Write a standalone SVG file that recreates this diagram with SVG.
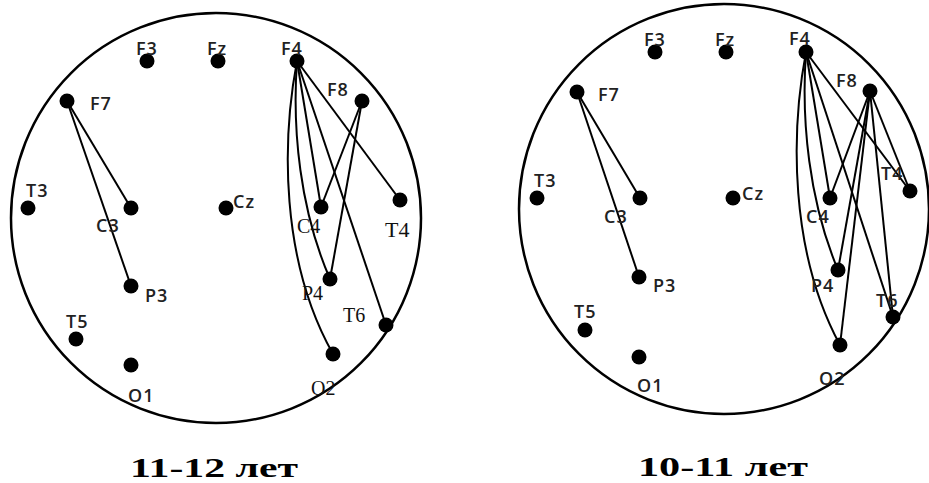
<svg xmlns="http://www.w3.org/2000/svg" width="929" height="483" viewBox="0 0 929 483">
<style>
.head{fill:none;stroke:#000;stroke-width:2.5}
.e{fill:none;stroke:#000;stroke-width:2}
.dot{fill:#000}
.s{font-family:"Open Sans","Liberation Sans",sans-serif;font-size:18px;font-weight:600;fill:#222;letter-spacing:1px}
.r{font-family:"Liberation Serif","Times New Roman",serif;font-size:20px;fill:#111}
.big{font-size:22px}
.title{font-family:"Liberation Serif","Times New Roman",serif;font-size:28px;font-weight:bold;fill:#000}
</style>
<rect width="929" height="483" fill="#fff"/>

<!-- LEFT DIAGRAM: 11-12 лет -->
<g id="left-head"><circle class="head" cx="216" cy="218" r="205"/></g>
<g id="left-connectors">
  <line class="e" x1="67" y1="101" x2="131" y2="208"/>
  <line class="e" x1="67" y1="101" x2="131" y2="286"/>
  <line class="e" x1="297" y1="61" x2="321" y2="207"/>
  <line class="e" x1="297" y1="61" x2="400" y2="200"/>
  <line class="e" x1="297" y1="61" x2="386" y2="325"/>
  <path class="e" d="M297,61 C292,130 300,210 330,279"/>
  <path class="e" d="M297,61 C282,140 280,260 333,354"/>
  <line class="e" x1="362" y1="101" x2="321" y2="207"/>
  <line class="e" x1="362" y1="101" x2="330" y2="279"/>
</g>
<g id="L-F3"><circle class="dot" cx="147" cy="61" r="7.5"/><text class="s" x="136" y="55">F3</text></g>
<g id="L-Fz"><circle class="dot" cx="218" cy="61" r="7.5"/><text class="s" x="207" y="55">Fz</text></g>
<g id="L-F4"><circle class="dot" cx="297" cy="61" r="7.5"/><text class="s" x="281" y="55">F4</text></g>
<g id="L-F8"><circle class="dot" cx="362" cy="101" r="7.5"/><text class="s" x="327" y="96">F8</text></g>
<g id="L-F7"><circle class="dot" cx="67" cy="101" r="7.5"/><text class="s" x="90" y="110">F7</text></g>
<g id="L-T3"><circle class="dot" cx="28" cy="208" r="7.5"/><text class="s" x="26" y="197">T3</text></g>
<g id="L-C3"><circle class="dot" cx="131" cy="208" r="7.5"/><text class="s" x="96" y="232">C3</text></g>
<g id="L-Cz"><circle class="dot" cx="226" cy="208" r="7.5"/><text class="s" x="233" y="208">Cz</text></g>
<g id="L-C4"><circle class="dot" cx="321" cy="207" r="7.5"/><text class="r" x="297" y="233">C4</text></g>
<g id="L-T4"><circle class="dot" cx="400" cy="200" r="7.5"/><text class="r big" x="385" y="237">T4</text></g>
<g id="L-P4"><circle class="dot" cx="330" cy="279" r="7.5"/><text class="r" x="302" y="300">P4</text></g>
<g id="L-T6"><circle class="dot" cx="386" cy="325" r="7.5"/><text class="r" x="343" y="322">T6</text></g>
<g id="L-O2"><circle class="dot" cx="333" cy="354" r="7.5"/><text class="r" x="311" y="395">O2</text></g>
<g id="L-P3"><circle class="dot" cx="131" cy="286" r="7.5"/><text class="s" x="145" y="302">P3</text></g>
<g id="L-T5"><circle class="dot" cx="76" cy="339" r="7.5"/><text class="s" x="66" y="328">T5</text></g>
<g id="L-O1"><circle class="dot" cx="131" cy="365" r="7.5"/><text class="s" x="128" y="402">O1</text></g>
<text id="left-title" class="title" x="130" y="477" textLength="168" lengthAdjust="spacingAndGlyphs">11-12 лет</text>

<!-- RIGHT DIAGRAM: 10-11 лет -->
<g id="right-head"><circle class="head" cx="724" cy="209" r="205"/></g>
<g id="right-connectors">
  <line class="e" x1="577" y1="92" x2="640" y2="198"/>
  <line class="e" x1="577" y1="92" x2="639" y2="277"/>
  <line class="e" x1="806" y1="52" x2="830" y2="198"/>
  <line class="e" x1="806" y1="52" x2="910" y2="191"/>
  <line class="e" x1="806" y1="52" x2="893" y2="317"/>
  <path class="e" d="M806,52 C801,121 809,201 838,270"/>
  <path class="e" d="M806,52 C791,131 789,251 840,345"/>
  <line class="e" x1="870" y1="91" x2="830" y2="198"/>
  <line class="e" x1="870" y1="91" x2="838" y2="270"/>
  <line class="e" x1="870" y1="91" x2="840" y2="345"/>
  <line class="e" x1="870" y1="91" x2="910" y2="191"/>
  <line class="e" x1="870" y1="91" x2="893" y2="317"/>
</g>
<g id="R-F3"><circle class="dot" cx="655" cy="52" r="7.5"/><text class="s" x="644" y="46">F3</text></g>
<g id="R-Fz"><circle class="dot" cx="726" cy="52" r="7.5"/><text class="s" x="715" y="46">Fz</text></g>
<g id="R-F4"><circle class="dot" cx="806" cy="52" r="7.5"/><text class="s" x="789" y="45">F4</text></g>
<g id="R-F8"><circle class="dot" cx="870" cy="91" r="7.5"/><text class="s" x="836" y="87">F8</text></g>
<g id="R-F7"><circle class="dot" cx="577" cy="92" r="7.5"/><text class="s" x="598" y="101">F7</text></g>
<g id="R-T3"><circle class="dot" cx="537" cy="198" r="7.5"/><text class="s" x="534" y="187">T3</text></g>
<g id="R-C3"><circle class="dot" cx="640" cy="198" r="7.5"/><text class="s" x="604" y="223">C3</text></g>
<g id="R-Cz"><circle class="dot" cx="733" cy="198" r="7.5"/><text class="s" x="742" y="200">Cz</text></g>
<g id="R-C4"><circle class="dot" cx="830" cy="198" r="7.5"/><text class="s" x="806" y="223">C4</text></g>
<g id="R-T4"><circle class="dot" cx="910" cy="191" r="7.5"/><text class="s" x="881" y="180">T4</text></g>
<g id="R-P4"><circle class="dot" cx="838" cy="270" r="7.5"/><text class="s" x="811" y="292">P4</text></g>
<g id="R-T6"><circle class="dot" cx="893" cy="317" r="7.5"/><text class="s" x="876" y="307">T6</text></g>
<g id="R-O2"><circle class="dot" cx="840" cy="345" r="7.5"/><text class="s" x="819" y="385">O2</text></g>
<g id="R-P3"><circle class="dot" cx="639" cy="277" r="7.5"/><text class="s" x="653" y="292">P3</text></g>
<g id="R-T5"><circle class="dot" cx="585" cy="330" r="7.5"/><text class="s" x="574" y="318">T5</text></g>
<g id="R-O1"><circle class="dot" cx="639" cy="357" r="7.5"/><text class="s" x="637" y="392">O1</text></g>
<text id="right-title" class="title" x="638" y="476" textLength="170" lengthAdjust="spacingAndGlyphs">10-11 лет</text>
</svg>
